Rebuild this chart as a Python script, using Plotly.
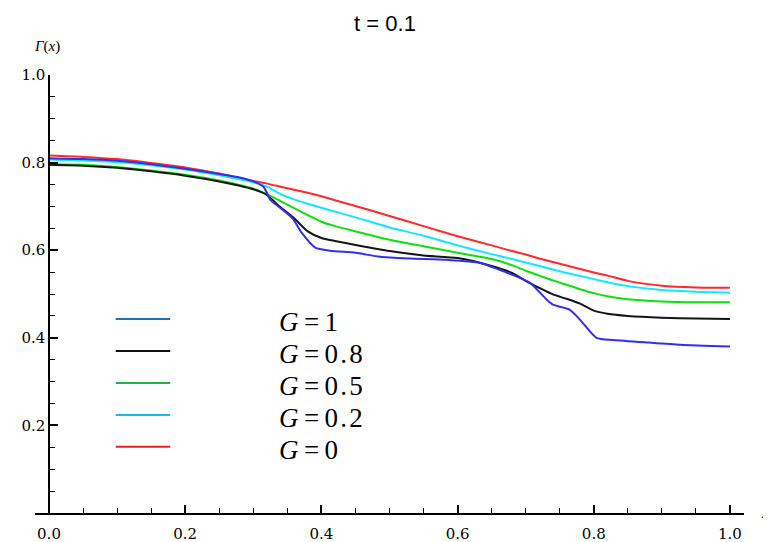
import plotly.graph_objects as go

# G = 1
x_g1 = [0, 0.05, 0.1, 0.15, 0.2, 0.25, 0.28, 0.3, 0.315, 0.325, 0.335, 0.345, 0.358, 0.371,
        0.391, 0.413, 0.45, 0.486, 0.53, 0.584, 0.633, 0.672, 0.706, 0.731, 0.741, 0.765,
        0.78, 0.804, 0.829, 0.88, 0.927, 1.0]
y_g1 = [0.810, 0.808, 0.804, 0.796, 0.786, 0.774, 0.766, 0.757, 0.745, 0.715, 0.702, 0.690,
        0.672, 0.640, 0.606, 0.599, 0.594, 0.585, 0.581, 0.578, 0.571, 0.549, 0.526, 0.487,
        0.475, 0.464, 0.441, 0.400, 0.395, 0.389, 0.384, 0.380]

# G = 0.8, 0.5, 0.2, 0 share one grid
x_grid = [0, 0.05, 0.1, 0.15, 0.2, 0.25, 0.28, 0.3, 0.32, 0.34, 0.36, 0.38, 0.4, 0.42, 0.45,
          0.5, 0.55, 0.6, 0.65, 0.68, 0.7, 0.72, 0.74, 0.76, 0.78, 0.8, 0.82, 0.85, 0.9,
          0.95, 1.0]
y_g08 = [0.795, 0.793, 0.788, 0.780, 0.770, 0.757, 0.747, 0.739, 0.726, 0.698, 0.673, 0.643,
         0.628, 0.621, 0.612, 0.598, 0.588, 0.582, 0.564, 0.548, 0.530, 0.514, 0.499, 0.489,
         0.478, 0.462, 0.455, 0.450, 0.446, 0.444, 0.443]
y_g05 = [0.797, 0.795, 0.790, 0.782, 0.772, 0.759, 0.749, 0.741, 0.728, 0.712, 0.696, 0.680,
         0.665, 0.655, 0.643, 0.624, 0.609, 0.594, 0.580, 0.566, 0.553, 0.542, 0.531, 0.521,
         0.511, 0.502, 0.495, 0.488, 0.483, 0.481, 0.481]
y_g02 = [0.807, 0.805, 0.801, 0.794, 0.784, 0.771, 0.762, 0.755, 0.745, 0.728, 0.716, 0.706,
         0.697, 0.688, 0.675, 0.652, 0.633, 0.611, 0.591, 0.580, 0.572, 0.564, 0.556, 0.548,
         0.541, 0.534, 0.527, 0.518, 0.509, 0.505, 0.503]
y_g0 = [0.816, 0.813, 0.808, 0.799, 0.789, 0.775, 0.765, 0.758, 0.752, 0.745, 0.738, 0.731,
        0.723, 0.714, 0.701, 0.678, 0.655, 0.632, 0.611, 0.598, 0.590, 0.581, 0.573, 0.565,
        0.557, 0.549, 0.542, 0.530, 0.519, 0.515, 0.514]

legend_values = ['1', '0.8', '0.5', '0.2', '0']
legend_y = [0.443, 0.370, 0.297, 0.224, 0.151]
legend_colors = ['#1f6fbf', '#111111', '#22b050', '#22b4ee', '#ee1c24']

x_ticks = ['0.0', '0.2', '0.4', '0.6', '0.8', '1.0']
y_ticks = ['0.2', '0.4', '0.6', '0.8', '1.0']

HAIR = '\u200a'
THIN = '\u2009'

curves = [(x_grid, y_g0, '#ff2a2a'),
          (x_grid, y_g02, '#10e8ff'),
          (x_grid, y_g05, '#10e010'),
          (x_grid, y_g08, '#151515'),
          (x_g1, y_g1, '#3030f0')]

fig = go.Figure()
for xs, ys, col in curves:
    fig.add_trace(go.Scatter(x=xs, y=ys, mode='lines',
                             line={'color': col, 'width': 2, 'shape': 'spline', 'smoothing': 0.6},
                             showlegend=False, hoverinfo='skip'))

# hand-made legend: short segment + label
for val, ly, col in zip(legend_values, legend_y, legend_colors):
    fig.add_shape(type='line', xref='x', yref='y', x0=0.098, x1=0.178, y0=ly, y1=ly,
                  line={'color': col, 'width': 2})
    label = '<i>G</i>' + THIN + '=' + THIN + HAIR.join(val)
    fig.add_annotation(x=0.335, y=ly - 0.008, xref='x', yref='y', text=label, showarrow=False,
                       xanchor='left', yanchor='middle',
                       font={'family': 'Liberation Serif', 'size': 27, 'color': 'black'})

fig.add_annotation(x=(47 - 35) / 709, y=1 + (75 - 47) / 438, xref='paper', yref='paper',
                   text='<i>Γ</i>(<i>x</i>)', showarrow=False, xanchor='center', yanchor='middle',
                   font={'family': 'Liberation Serif', 'size': 15, 'color': 'black'})
fig.add_annotation(x=(765 - 35) / 709, y=0.0, xref='paper', yref='paper', text='<i>x</i>',
                   showarrow=False, xanchor='center', yanchor='middle',
                   font={'family': 'Liberation Serif', 'size': 15, 'color': 'black'})

# page body has an 8px margin, so the figure is a bit smaller than the window
fig.update_layout(
    width=763, height=534,
    plot_bgcolor='white', paper_bgcolor='white',
    margin={'l': 27, 'r': 27, 't': 67, 'b': 29, 'autoexpand': False},
    title={'text': 't = 0.1', 'x': 377 / 763, 'xref': 'container', 'xanchor': 'center',
           'y': 1 - 15 / 534, 'yanchor': 'middle',
           'font': {'family': 'Liberation Sans', 'size': 22, 'color': 'black'}},
)

tick_font = {'family': 'DejaVu Serif', 'size': 15, 'color': 'black'}
minor_ticks = {'dtick': 0.05, 'tick0': 0, 'ticks': 'inside', 'ticklen': 5,
               'tickcolor': 'black', 'tickwidth': 1.2, 'showgrid': False}

fig.update_xaxes(
    range=[-0.02056, 1.0206], automargin=False,
    showgrid=False, zeroline=False,
    showline=True, linecolor='black', linewidth=1.5,
    tickvals=[float(t) for t in x_ticks], ticktext=x_ticks,
    ticks='inside', ticklen=8, tickcolor='black', tickwidth=1.5,
    ticklabelstandoff=6,
    minor=minor_ticks,
    tickfont=tick_font,
)

fig.update_yaxes(
    range=[0, 1.0], automargin=False,
    anchor='free', position=14 / 709,
    showgrid=False, zeroline=False,
    showline=True, linecolor='black', linewidth=1.5,
    tickvals=[float(t) for t in y_ticks], ticktext=y_ticks,
    ticks='inside', ticklen=8, tickcolor='black', tickwidth=1.5,
    minor=minor_ticks,
    tickfont=tick_font,
)

fig.write_html("out.html")
